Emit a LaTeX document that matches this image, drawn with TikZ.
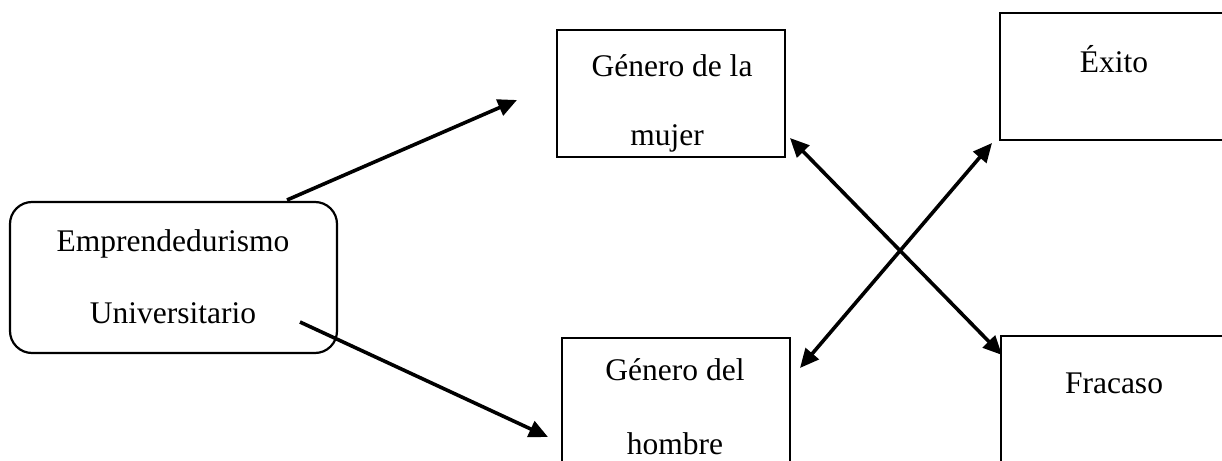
\documentclass[tikz,border=0pt]{standalone}
\usepackage{fontspec}
\setmainfont{Liberation Serif}
\usetikzlibrary{arrows.meta}
\begin{document}
\begin{tikzpicture}[x=1pt,y=-1pt,
  box/.style={draw, line width=2.2pt, inner sep=0pt},
  txt/.style={anchor=base, inner sep=0pt, font=\fontsize{31.5}{38}\selectfont},
  conn/.style={line width=3.6pt, -{Triangle[length=19pt,width=17pt]}},
  dconn/.style={line width=3.6pt, {Triangle[length=19pt,width=17pt]}-{Triangle[length=19pt,width=17pt]}}]
\useasboundingbox (0,0) rectangle (1222,460);
\clip (0,0) rectangle (1222,460);
% boxes
\node[box, rounded corners=22pt, minimum width=327pt, minimum height=151pt] (emp) at (173.5,277.5) {};
\node[box, minimum width=228pt, minimum height=127pt] (mujer) at (671,93.5) {};
\node[box, minimum width=228pt, minimum height=162pt] (hombre) at (676,419) {};
\node[box, minimum width=240pt, minimum height=127pt] (exito) at (1120,76.5) {};
\node[box, minimum width=240pt, minimum height=164pt] (fracaso) at (1121,418) {};
% texts
\node[txt] (t1) at (173,251) {Emprendedurismo};
\node[txt] (t2) at (173,323) {Universitario};
\node[txt] (t3) at (672,77) {Género de la};
\begin{scope}
\clip (557,30) rectangle (785,156);
\node[txt] (t4) at (667,145) {mujer};
\end{scope}
\node[txt] (t5) at (675,380) {Género del};
\node[txt] (t6) at (675,454) {hombre};
\node[txt] (t7) at (1114,72) {Éxito};
\node[txt] (t8) at (1114,393) {Fracaso};
% connector ends
\coordinate (a1s) at (287,200);
\coordinate (a1e) at (517,100);
\coordinate (a2s) at (300,322);
\coordinate (a2e) at (548,437);
\coordinate (d1a) at (790,138);
\coordinate (d1b) at (1002,355);
\coordinate (d2a) at (992,143);
\coordinate (d2b) at (800,368);
% connectors
\draw[conn] (a1s) -- (a1e);
\draw[conn] (a2s) -- (a2e);
\draw[dconn] (d1a) -- (d1b);
\draw[dconn] (d2a) -- (d2b);
\end{tikzpicture}
\end{document}
